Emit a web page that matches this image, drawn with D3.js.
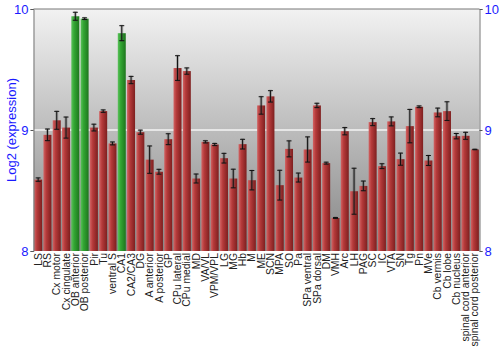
<!DOCTYPE html>
<html>
<head>
<meta charset="utf-8">
<script src="https://cdn.jsdelivr.net/npm/d3@7"></script>
<style>
  body { margin: 0; background: #fff; }
  svg { display: block; font-family: "Liberation Sans", Arial, sans-serif; }
</style>
</head>
<body>
<svg id="chart" width="500" height="350"></svg>
<script>
// regions, in plot order
const regions = ["LS", "RS", "Cx motor", "Cx cingulate", "OB anterior", "OB posterior", "Pir", "Tu",
  "ventral S", "CA1", "CA2/CA3", "DG", "A anterior", "A posterior", "GP", "CPu lateral", "CPu medial",
  "MD", "VA/VL", "VPM/VPL", "LG", "MG", "Hb", "M", "ME", "SCN", "MPA", "SO", "Pa", "SPa ventral",
  "SPa dorsal", "DM", "VMH", "Arc", "LH", "PAG", "SC", "IC", "VTA", "SN", "Tg", "Pn", "MVe",
  "Cb vermis", "Cb lobe", "Cb nucleus", "spinal cord anterior", "spinal cord posterior"];

const expression = [8.59, 8.96, 9.08, 9.02, 9.94, 9.92, 9.02, 9.156, 8.889, 9.80, 9.413, 8.982,
  8.755, 8.655, 8.924, 9.512, 9.487, 8.599, 8.902, 8.880, 8.767, 8.599, 8.883, 8.585, 9.203, 9.278,
  8.544, 8.844, 8.607, 8.839, 9.203, 8.726, 8.273, 8.990, 8.494, 8.538, 9.065, 8.701, 9.071, 8.759,
  9.032, 9.192, 8.748, 9.145, 9.156, 8.949, 8.952, 8.839];

const errors = [0.014, 0.048, 0.074, 0.087, 0.033, 0.007, 0.028, 0.01, 0.012, 0.062, 0.03, 0.017,
  0.113, 0.02, 0.045, 0.102, 0.026, 0.037, 0.009, 0.009, 0.04, 0.077, 0.04, 0.08, 0.072, 0.047,
  0.123, 0.066, 0.037, 0.104, 0.018, 0.008, 0.004, 0.03, 0.19, 0.04, 0.029, 0.02, 0.037, 0.05,
  0.138, 0.007, 0.041, 0.036, 0.077, 0.022, 0.029, 0.002];

// highlighted regions drawn in green
const highlighted = ["OB anterior", "OB posterior", "CA1"];

const yTicks = [8, 9, 10];

const svg = d3.select("#chart");
const margin = { top: 9, right: 20.5, bottom: 99, left: 33.5 };
const W = 500, H = 350;
const iw = W - margin.left - margin.right;
const ih = H - margin.top - margin.bottom;

const x = d3.scaleBand().domain(regions).range([margin.left, margin.left + iw]).paddingInner(0.14).paddingOuter(0.07);
const y = d3.scaleLinear().domain([8, 10]).range([margin.top + ih, margin.top]);

const defs = svg.append("defs");
const bg = defs.append("linearGradient").attr("id", "bg").attr("x1", 0).attr("y1", 0).attr("x2", 0).attr("y2", 1);
bg.append("stop").attr("offset", "0%").attr("stop-color", "#f2f2f2");
bg.append("stop").attr("offset", "100%").attr("stop-color", "#868686");

function barGrad(id, c1, c2, c3) {
  const g = defs.append("linearGradient").attr("id", id).attr("x1", 0).attr("y1", 0).attr("x2", 1).attr("y2", 0);
  g.append("stop").attr("offset", "0%").attr("stop-color", c1);
  g.append("stop").attr("offset", "35%").attr("stop-color", c2);
  g.append("stop").attr("offset", "100%").attr("stop-color", c3);
}
barGrad("red", "#d26363", "#b53a3a", "#7e1f1f");
barGrad("green", "#5cc25c", "#33a633", "#1d761d");

// plot background
svg.append("rect")
  .attr("x", margin.left).attr("y", margin.top)
  .attr("width", iw).attr("height", ih)
  .attr("fill", "url(#bg)");

// gridline at 9
svg.append("line")
  .attr("x1", margin.left).attr("x2", margin.left + iw)
  .attr("y1", y(9)).attr("y2", y(9))
  .attr("stroke", "#f4f4f4").attr("stroke-width", 1.5);

// bars
svg.append("g").selectAll("rect")
  .data(regions)
  .join("rect")
  .attr("x", d => x(d))
  .attr("width", x.bandwidth())
  .attr("y", (d, i) => y(expression[i]))
  .attr("height", (d, i) => y(8) - y(expression[i]))
  .attr("fill", d => highlighted.includes(d) ? "url(#green)" : "url(#red)");

// error bars
const eb = svg.append("g").selectAll("g")
  .data(regions)
  .join("g")
  .attr("transform", d => `translate(${x(d) + x.bandwidth() / 2},0)`);

eb.append("rect")
  .attr("x", -1.5).attr("width", 3)
  .attr("y", (d, i) => y(expression[i] + errors[i]) - 1)
  .attr("height", (d, i) => y(expression[i] - errors[i]) - y(expression[i] + errors[i]) + 2)
  .attr("fill", "#555").attr("opacity", 0.35);

eb.append("line")
  .attr("y1", (d, i) => y(expression[i] + errors[i]))
  .attr("y2", (d, i) => y(expression[i] - errors[i]))
  .attr("stroke", "#111").attr("stroke-width", 1);

eb.append("line")
  .attr("x1", -2.5).attr("x2", 2.5)
  .attr("y1", (d, i) => y(expression[i] + errors[i]))
  .attr("y2", (d, i) => y(expression[i] + errors[i]))
  .attr("stroke", "#111").attr("stroke-width", 1);

eb.append("line")
  .attr("x1", -2.5).attr("x2", 2.5)
  .attr("y1", (d, i) => y(expression[i] - errors[i]))
  .attr("y2", (d, i) => y(expression[i] - errors[i]))
  .attr("stroke", "#111").attr("stroke-width", 1);

// frame line on top
svg.append("line")
  .attr("x1", margin.left).attr("x2", margin.left + iw)
  .attr("y1", margin.top).attr("y2", margin.top)
  .attr("stroke", "#777").attr("stroke-width", 1);

// axes
const left = svg.append("g")
  .attr("transform", `translate(${margin.left},0)`)
  .call(d3.axisLeft(y).tickValues(yTicks).tickFormat(d3.format("d")).tickSize(3).tickPadding(2));
const right = svg.append("g")
  .attr("transform", `translate(${margin.left + iw},0)`)
  .call(d3.axisRight(y).tickValues(yTicks).tickFormat(d3.format("d")).tickSize(3).tickPadding(2));

[left, right].forEach(a => {
  a.select(".domain").attr("stroke", "#777");
  a.selectAll(".tick line").attr("stroke", "#555");
  a.selectAll("text").attr("fill", "#1a1aff").attr("font-size", "13px")
    .attr("font-family", "'Liberation Sans', Arial, sans-serif");
});

// x labels
const xa = svg.append("g")
  .attr("transform", `translate(0,${margin.top + ih})`)
  .call(d3.axisBottom(x).tickSize(0).tickPadding(0));
xa.select(".domain").remove();
xa.selectAll("text")
  .attr("transform", "rotate(-90)")
  .attr("text-anchor", "end")
  .attr("x", -2)
  .attr("y", 0)
  .attr("dy", "0.35em")
  .attr("fill", "#222")
  .attr("font-size", "10.4px")
  .attr("font-family", "'Liberation Sans', Arial, sans-serif");

// y title
svg.append("text")
  .attr("transform", `translate(11,${margin.top + ih / 2}) rotate(-90)`)
  .attr("text-anchor", "middle")
  .attr("dy", "0.35em")
  .attr("fill", "#1a1aff")
  .attr("font-size", "13px")
  .text("Log2 (expression)");
</script>
</body>
</html>
